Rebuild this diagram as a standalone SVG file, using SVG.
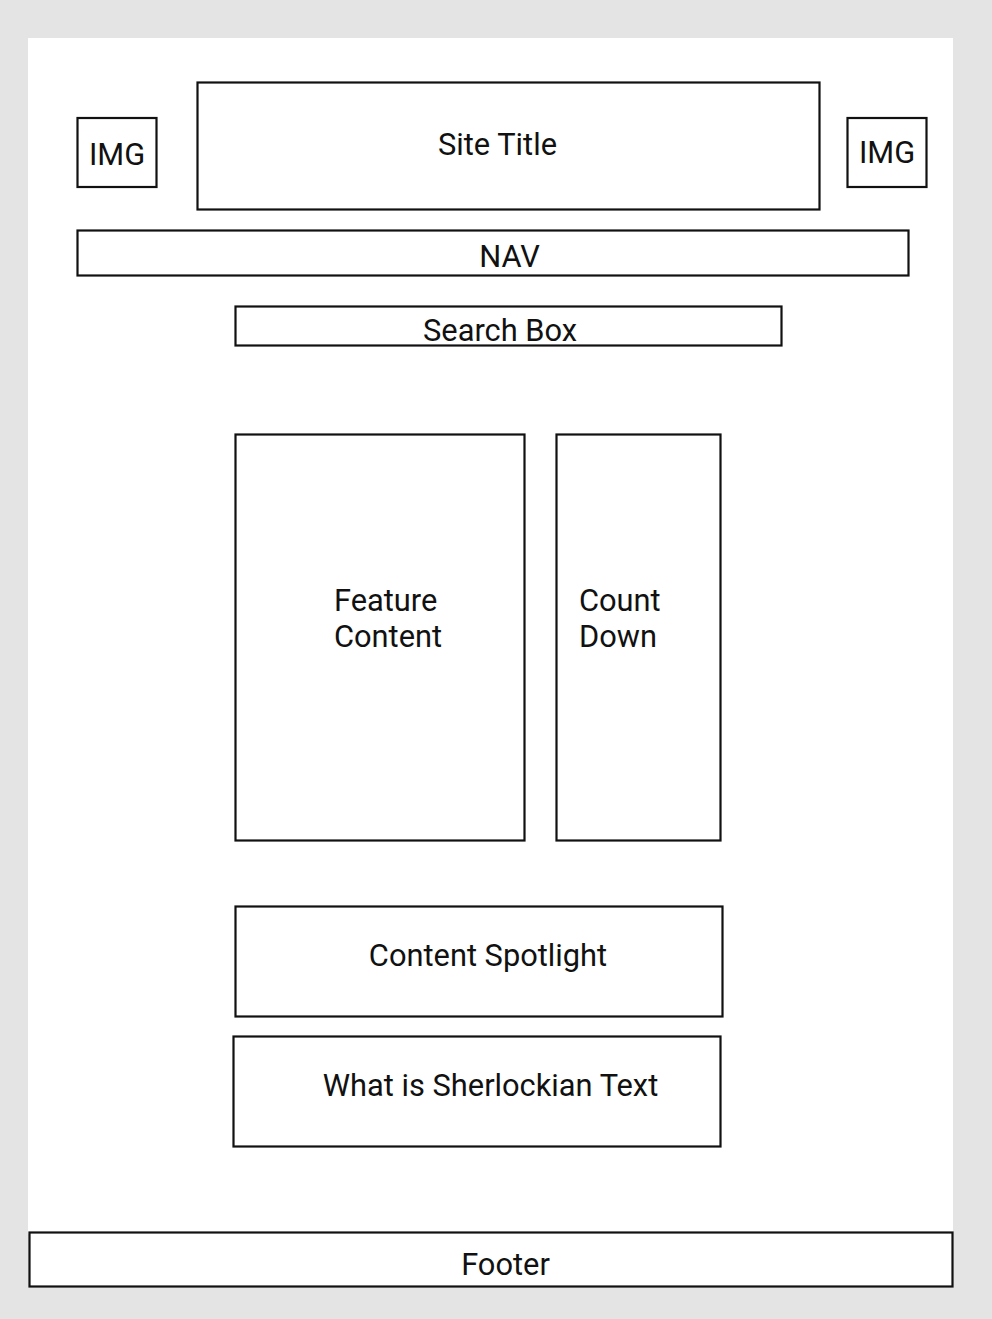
<svg xmlns="http://www.w3.org/2000/svg" width="992" height="1319" viewBox="0 0 992 1319">
  <style>
    .box { fill: #ffffff; stroke: #111111; stroke-width: 2.2; }
    .lbl { font-family: Roboto, "Liberation Sans", sans-serif; font-size: 30.8px; fill: #111111; }
    .mid { text-anchor: middle; }
  </style>
  <!-- page backdrop and canvas -->
  <rect x="0" y="0" width="992" height="1319" fill="#e4e4e4"/>
  <rect x="28" y="38" width="925" height="1196" fill="#ffffff"/>

  <g id="img-left">
    <rect class="box" x="77.500" y="118" width="79" height="69"/>
    <text class="lbl mid" x="117" y="165">IMG</text>
  </g>
  <g id="site-title">
    <rect class="box" x="197.500" y="82.500" width="622" height="127"/>
    <text class="lbl mid" x="497.500" y="155">Site Title</text>
  </g>
  <g id="img-right">
    <rect class="box" x="847.500" y="118" width="79" height="69"/>
    <text class="lbl mid" x="887" y="163">IMG</text>
  </g>
  <g id="nav">
    <rect class="box" x="77.500" y="230.500" width="831" height="45"/>
    <text class="lbl mid" x="509.500" y="267">NAV</text>
  </g>
  <g id="search-box">
    <rect class="box" x="235.500" y="306.500" width="546" height="39"/>
    <text class="lbl mid" x="500" y="341">Search Box</text>
  </g>
  <g id="feature-content">
    <rect class="box" x="235.500" y="434.500" width="289" height="406"/>
    <text class="lbl" x="334" y="611">Feature</text>
    <text class="lbl" x="334" y="647">Content</text>
  </g>
  <g id="count-down">
    <rect class="box" x="556.500" y="434.500" width="164" height="406"/>
    <text class="lbl" x="579" y="611">Count</text>
    <text class="lbl" x="579" y="647">Down</text>
  </g>
  <g id="content-spotlight">
    <rect class="box" x="235.500" y="906.500" width="487" height="110"/>
    <text class="lbl mid" x="488" y="966">Content Spotlight</text>
  </g>
  <g id="sherlockian-text">
    <rect class="box" x="233.500" y="1036.500" width="487" height="110"/>
    <text class="lbl mid" x="490.500" y="1096">What is Sherlockian Text</text>
  </g>
  <g id="footer">
    <rect class="box" x="29.500" y="1232.500" width="923" height="54"/>
    <text class="lbl mid" x="505.500" y="1275">Footer</text>
  </g>
  <g id="connectors"/>
</svg>
